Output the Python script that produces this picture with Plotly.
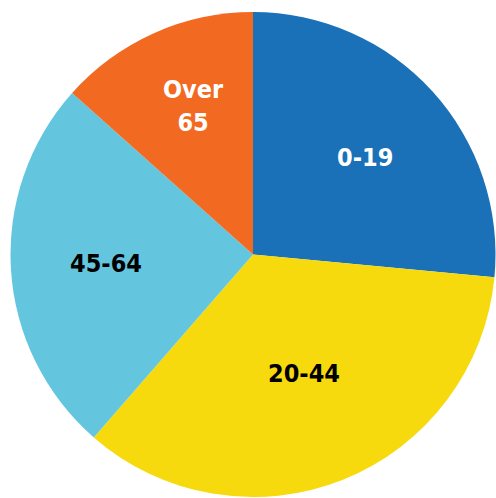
import plotly.graph_objects as go

labels = ["0-19", "20-44", "45-64", "Over 65"]
values = [26.5, 34.9, 25.2, 13.4]
colors = ["#1a71b8", "#f6da0e", "#63c6de", "#f26922"]
label_text = ["0-19", "20-44", "45-64", "Over<br>65"]
label_color = ["white", "black", "black", "white"]
# label centres in pixels (x, y from top)
label_pos = [(365, 158), (304, 373), (106, 263), (193, 106)]

W, H = 496, 498

fig = go.Figure(go.Pie(
    labels=labels, values=values, sort=False, direction="clockwise", rotation=0,
    marker=dict(colors=colors, line=dict(width=0)),
    textinfo="none", hoverinfo="label+value", showlegend=False,
    domain=dict(x=[10 / W, 1.0], y=[1 - 497 / H, 1 - 12 / H]),
))

for t, c, (px, py) in zip(label_text, label_color, label_pos):
    fig.add_annotation(
        x=px / W, y=1 - py / H, xref="paper", yref="paper",
        text="<b>%s</b>" % t, showarrow=False, xanchor="center", yanchor="middle",
        font=dict(family="DejaVu Sans Condensed", size=25, color=c),
    )

fig.update_layout(
    width=W, height=H, margin=dict(l=0, r=0, t=0, b=0),
    paper_bgcolor="white", plot_bgcolor="white",
)
fig.write_html("out.html")
